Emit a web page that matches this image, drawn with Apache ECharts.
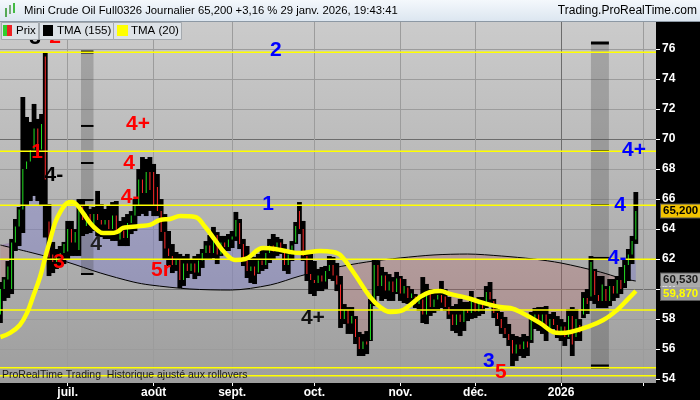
<!DOCTYPE html>
<html><head><meta charset="utf-8">
<script src="https://cdn.jsdelivr.net/npm/echarts@6/dist/echarts.min.js"></script>
<style>html,body{margin:0;padding:0;background:#000}#c{width:700px;height:400px}</style>
</head><body><div id="c"></div>
<script>
// ---- categories (trading days) ----
const dates = [
'2025-06-05','2025-06-06','2025-06-09','2025-06-10','2025-06-11','2025-06-12','2025-06-13','2025-06-16','2025-06-17','2025-06-18','2025-06-19','2025-06-20','2025-06-23','2025-06-24','2025-06-25','2025-06-26','2025-06-27','2025-06-30',
'2025-07-01','2025-07-02','2025-07-03','2025-07-04','2025-07-07','2025-07-08','2025-07-09','2025-07-10','2025-07-11','2025-07-14','2025-07-15','2025-07-16','2025-07-17','2025-07-18','2025-07-21','2025-07-22','2025-07-23','2025-07-24','2025-07-25','2025-07-28','2025-07-29','2025-07-30','2025-07-31',
'2025-08-01','2025-08-04','2025-08-05','2025-08-06','2025-08-07','2025-08-08','2025-08-11','2025-08-12','2025-08-13','2025-08-14','2025-08-15','2025-08-18','2025-08-19','2025-08-20','2025-08-21','2025-08-22','2025-08-25','2025-08-26','2025-08-27','2025-08-28','2025-08-29',
'2025-09-01','2025-09-02','2025-09-03','2025-09-04','2025-09-05','2025-09-08','2025-09-09','2025-09-10','2025-09-11','2025-09-12','2025-09-15','2025-09-16','2025-09-17','2025-09-18','2025-09-19','2025-09-22','2025-09-23','2025-09-24','2025-09-25','2025-09-26','2025-09-29','2025-09-30',
'2025-10-01','2025-10-02','2025-10-03','2025-10-06','2025-10-07','2025-10-08','2025-10-09','2025-10-10','2025-10-13','2025-10-14','2025-10-15','2025-10-16','2025-10-17','2025-10-20','2025-10-21','2025-10-22','2025-10-23','2025-10-24','2025-10-27','2025-10-28','2025-10-29','2025-10-30','2025-10-31',
'2025-11-03','2025-11-04','2025-11-05','2025-11-06','2025-11-07','2025-11-10','2025-11-11','2025-11-12','2025-11-13','2025-11-14','2025-11-17','2025-11-18','2025-11-19','2025-11-20','2025-11-21','2025-11-24','2025-11-25','2025-11-26','2025-11-27','2025-11-28',
'2025-12-01','2025-12-02','2025-12-03','2025-12-04','2025-12-05','2025-12-08','2025-12-09','2025-12-10','2025-12-11','2025-12-12','2025-12-15','2025-12-16','2025-12-17','2025-12-18','2025-12-19','2025-12-22','2025-12-23','2025-12-24','2025-12-25','2025-12-26','2025-12-29','2025-12-30','2025-12-31',
'2026-01-01','2026-01-02','2026-01-05','2026-01-06','2026-01-07','2026-01-08','2026-01-09','2026-01-12','2026-01-13','2026-01-14','2026-01-15','2026-01-16','2026-01-19','2026-01-20','2026-01-21','2026-01-22','2026-01-23','2026-01-26','2026-01-27','2026-01-28','2026-01-29','2026-01-30',
'2026-02-02','2026-02-03','2026-02-04','2026-02-05'
];
const monthLabels = ['juil.','août','sept.','oct.','nov.','déc.','2026',''];
const yTicks = [54,56,58,60,62,64,66,68,70,72,74,76];

// ---- price series (OHLC) ----
const opens = [58.3,60.0,60.64,60.0,63.1,64.17,65.3,68.0,68.5,69.3,70.7,69.3,75.5,64.5,62.3,61.8,62.2,62.4,62.5,64.0,63.1,62.6,65.5,64.2,65.0,64.3,65.0,64.6,64.3,64.6,64.0,64.9,63.3,63.9,63.4,64.4,64.9,65.6,67.3,66.4,67.8,67.8,66.8,65.2,63.8,62.7,62.2,61.6,62.0,60.6,61.7,61.2,61.7,61.1,61.9,62.4,62.9,62.4,63.6,62.3,63.1,62.8,63.3,63.5,64.4,63.0,61.9,61.2,61.5,61.1,61.9,61.6,62.4,62.9,62.5,63.1,62.6,61.6,62.3,63.1,65.2,64.0,62.2,61.0,60.6,60.4,60.9,60.5,61.2,61.6,60.9,60.3,58.0,58.6,57.7,58.0,56.8,56.0,56.5,56.6,59.0,61.6,60.2,60.9,59.9,60.5,59.8,60.7,59.7,60.1,59.4,59.5,59.0,59.3,58.3,59.8,58.8,59.3,59.6,59.5,58.8,58.3,57.6,58.3,57.8,58.6,58.4,59.2,58.5,59.0,58.9,59.8,59.2,58.4,58.0,57.4,57.0,56.6,55.7,56.3,56.0,56.5,56.6,58.0,58.3,57.8,58.3,57.4,58.0,57.6,57.2,57.5,56.8,58.2,56.8,57.6,58.3,59.4,59.5,61.2,59.6,59.2,60.0,59.2,60.2,59.7,60.6,60.4,61.6,62.3,63.3];
const highs = [60.4,60.73,61.8,63.27,64.6,65.4,72.73,71.4,71.07,72.27,71.27,71.6,75.73,65.6,63.07,62.6,62.8,63.07,64.47,64.47,63.93,65.93,65.93,65.47,65.27,65.4,66.47,65.6,65.27,65.47,65.73,65.8,64.47,64.73,64.93,65.13,65.93,67.93,68.73,68.6,68.73,68.27,67.6,65.93,64.93,63.8,62.93,62.4,62.27,62.13,62.27,61.93,62.13,62.27,62.6,63.13,63.53,64.07,63.73,63.47,63.47,63.6,63.8,65.07,64.6,63.27,62.8,62.27,62.07,62.27,62.6,62.8,63.27,63.6,63.4,63.27,62.93,62.47,63.13,64.4,65.73,64.47,62.27,62.27,61.8,61.27,61.4,61.47,62.13,62.07,61.67,60.8,58.93,58.73,58.73,58.13,57.07,56.93,57.13,59.27,61.93,61.8,61.4,61.07,60.93,60.73,61.07,60.8,60.6,60.13,59.93,59.6,59.47,60.73,60.27,59.93,59.73,59.8,60.47,59.93,59.4,58.8,58.93,59.27,59.07,59.07,59.8,59.27,59.4,59.4,60.13,60.4,59.27,58.8,58.4,58.07,57.6,56.93,56.8,56.73,56.93,56.8,58.4,58.67,58.73,58.73,58.8,58.27,58.4,58.13,57.93,57.73,58.6,58.73,58.6,57.93,59.73,59.93,62.13,61.27,60.8,60.8,60.13,60.6,60.6,60.8,61.4,61.93,62.6,63.47,66.4];
const lows = [57.8,59.27,59.47,59.73,62.6,62.93,63.8,65.6,65.93,66.27,65.93,65.6,63.5,60.93,61.13,61.4,61.6,61.73,62.07,62.27,62.27,62.27,63.6,63.73,63.8,63.93,63.6,63.53,63.4,63.4,63.27,63.27,62.93,62.93,62.93,63.73,63.93,64.93,65.07,64.93,65.27,64.93,64.93,63.27,62.07,61.6,61.13,61.27,60.13,60.27,60.8,61.07,60.73,60.93,61.47,62.07,62.07,62.13,61.73,62.27,62.6,62.6,62.8,63.27,62.73,61.6,60.8,60.47,60.4,61.07,61.27,61.4,61.8,62.07,62.27,62.4,61.27,61.07,61.93,63.07,63.73,61.93,60.6,59.73,59.6,59.93,59.93,60.07,60.73,60.6,59.93,57.47,57.73,57.07,57.07,56.4,55.6,55.6,55.73,56.6,58.93,59.6,59.27,59.4,59.27,59.27,59.73,59.27,59.13,59.07,59.07,58.8,58.6,57.8,57.73,58.27,58.47,58.6,58.8,58.6,58.07,57.27,57.13,56.93,57.27,57.93,58.07,58.13,58.27,58.4,58.8,59.07,58.13,57.6,57.07,56.8,56.27,54.93,55.27,55.6,55.47,55.6,56.47,57.4,57.27,57.07,56.6,57.27,57.4,56.8,56.6,56.27,56.73,55.6,56.6,56.6,58.13,58.4,59.27,59.07,58.8,58.8,58.8,58.93,59.27,59.47,59.73,60.13,60.6,61.73,63.07];
const closes = [60.0,60.64,61.5,63.1,64.17,65.3,68.0,68.5,69.27,70.7,69.3,71.0,67.3,62.1,61.8,62.2,62.4,63.0,64.0,63.1,63.8,65.5,64.6,65.0,64.3,65.0,64.6,64.3,64.6,64.0,64.9,63.7,63.9,63.4,64.4,64.9,65.6,67.3,66.4,67.8,66.6,65.6,65.2,63.8,62.7,62.2,61.6,62.0,60.6,61.7,61.2,61.7,61.1,61.9,62.4,62.9,62.4,63.6,62.3,63.1,62.8,63.3,63.5,64.6,63.0,61.9,61.2,61.5,60.9,61.9,61.6,62.4,62.9,62.5,63.1,62.6,61.6,62.3,62.9,64.2,64.0,62.2,61.0,60.6,60.4,60.9,60.5,61.2,61.6,60.9,60.3,58.0,58.6,57.7,58.2,56.8,56.0,56.5,56.3,59.0,61.6,60.2,60.9,59.9,60.5,59.8,60.7,59.7,60.2,59.4,59.7,59.0,59.3,58.3,59.8,58.8,59.3,59.6,59.1,58.8,58.3,57.6,58.3,57.8,58.6,58.4,59.2,58.5,59.0,58.7,59.8,59.3,58.4,58.0,57.4,57.0,56.6,55.7,56.3,56.0,56.5,56.1,58.0,58.3,57.8,58.3,57.4,58.0,57.6,57.2,57.5,56.8,58.2,56.3,58.0,57.1,59.4,59.0,61.8,59.6,59.2,60.3,59.2,60.2,59.7,60.6,60.0,61.6,62.3,63.2,65.2];

// ---- moving averages: [bar index, value] ----
const tma155 = [[0,62.93],[8.7,62.4],[17.8,61.8],[26.7,61.07],[35.5,60.47],[40,60.27],[50.7,60.0],[61.5,59.93],[72.2,60.27],[80.2,60.87],[89,61.4],[98,61.8],[107,62.07],[116,62.27],[125,62.33],[134,62.2],[142.6,62.0],[150,61.73],[160.5,61.13],[165.9,60.73],[170,60.53]];
const tma20 = [[0,56.8],[2.6,57.07],[5.2,57.6],[7.1,58.4],[8.7,59.47],[10.6,60.8],[12,62.13],[13.3,63.27],[14.6,64.4],[16,65.13],[17.8,65.73],[19.2,65.8],[20.5,65.6],[22.1,65.07],[24,64.4],[25.9,63.93],[27.5,63.73],[29.3,63.73],[31.2,63.8],[32.8,64.07],[34.7,64.13],[37.4,64.2],[40,64.27],[42.7,64.6],[45.4,64.67],[48.1,64.87],[52.1,64.8],[54.8,64.13],[57.4,63.27],[60.1,62.4],[62.8,61.93],[65.5,62.0],[70.3,62.73],[73.5,62.67],[77.5,62.47],[80.2,62.4],[85.5,62.53],[89,62.47],[90.9,62.27],[94.4,61.13],[98.9,59.47],[101.6,58.8],[104.3,58.47],[107,58.53],[109.6,58.93],[112.3,59.47],[115,59.8],[117.7,59.87],[120.3,59.67],[124.9,59.4],[129.2,59.07],[133.7,58.8],[136.4,58.73],[139.1,58.47],[144.4,57.73],[147.9,57.13],[149.8,57.07],[152.5,57.13],[157,57.47],[161.3,57.93],[165,58.6],[167.7,59.27],[170,59.87]];

// ---- drawn objects (data space) ----
const levels = [75.78,69.18,65.58,61.98,58.6,54.75,54.22];
const bands = [[21.56,24.9,75.85,61.0],[158.0,162.8,76.45,54.75]];
const bandMarks = [[75.8,70.87,68.4,65.93,61.0],[76.4,69.2,65.6,62.07,54.9,54.75]];
const fillSegments = [[0,3,-1],[3,82,1],[82,167,-1],[167,170,1]];
const annotations = [
 [9.3,76.73,'3','#000000'],[14.6,76.8,'2','#ff0000'],[73.7,75.93,'2','#0000ff'],
 [36.8,71.0,'4+','#ff0000'],[9.8,69.13,'1','#ff0000'],[14.3,67.6,'4-','#000000'],
 [34.4,68.4,'4','#ff0000'],[34.7,66.13,'4-','#ff0000'],[71.6,65.67,'1','#0000ff'],
 [25.6,63.0,'4','#202020'],[15.7,61.8,'3','#ff0000'],[42.96,61.27,'5r','#ff0000'],
 [83.6,58.07,'4+','#101010'],[130.7,55.2,'3','#0000ff'],[133.9,54.47,'5','#ff0000'],
 [169.5,69.27,'4+','#0000ff'],[165.8,65.6,'4','#0000ff'],[165.0,62.07,'4-','#0000ff']
];

const FONT = '"Liberation Sans", Arial, sans-serif';
const X_MIN = -0.112, X_MAX = 175.4;
const monthStarts = [];
for (let i = 1; i < dates.length; i++) if (dates[i].slice(0,7) !== dates[i-1].slice(0,7)) monthStarts.push(i);
const lastIdx = closes.length - 1;
const fmt = v => v.toFixed(3).replace('.', ',');

function renderCandle(params, api) {
  const i = api.value(0);
  const o = opens[i], h = highs[i], l = lows[i], c = closes[i];
  const pH = api.coord([i, h]), pL = api.coord([i, l]), pO = api.coord([i, o]), pC = api.coord([i, c]);
  const top = Math.min(pO[1], pC[1]), hh = Math.max(1, Math.abs(pC[1] - pO[1]));
  return { type: 'group', children: [
    { type: 'rect', shape: { x: pH[0] - 2.4, y: pH[1] - 1, width: 4.8, height: pL[1] - pH[1] + 2 }, style: { fill: '#000' } },
    { type: 'rect', shape: { x: pO[0] - 0.5, y: top, width: 1, height: hh }, style: { fill: c >= o ? '#22e022' : '#ff2a2a' } }
  ]};
}
function renderFill(params, api) {
  const children = fillSegments.map(([a, b, s]) => {
    const pts = [];
    for (let i = a; i <= b; i++) pts.push(api.coord([i, closes[i]]));
    tma155.filter(p => p[0] >= a - 3 && p[0] <= b).reverse().forEach(p => pts.push(api.coord(p)));
    return { type: 'polygon', shape: { points: pts }, style: { fill: s > 0 ? 'rgba(95,95,225,0.26)' : 'rgba(195,85,85,0.22)' } };
  });
  return { type: 'group', children };
}
function renderLevel(params, api) {
  const cs = params.coordSys;
  const y = api.coord([0, levels[params.dataIndex]])[1];
  return { type: 'line', shape: { x1: cs.x, y1: y, x2: cs.x + cs.width, y2: y }, style: { stroke: '#ffff00', lineWidth: 1.4 } };
}
function renderBand(params, api) {
  const b = bands[params.dataIndex];
  const p1 = api.coord([b[0], b[2]]), p2 = api.coord([b[1], b[3]]);
  const ch = [{ type: 'rect', shape: { x: p1[0], y: p1[1], width: p2[0] - p1[0], height: p2[1] - p1[1] }, style: { fill: 'rgba(70,70,70,0.28)' } }];
  bandMarks[params.dataIndex].forEach((v, k) => {
    const y = api.coord([b[0], v])[1];
    ch.push({ type: 'line', shape: { x1: p1[0], y1: y, x2: p2[0], y2: y }, style: { stroke: '#000', lineWidth: k === 0 ? 3 : 2 } });
  });
  return { type: 'group', children: ch };
}
function renderNote(params, api) {
  const a = annotations[params.dataIndex];
  const p = api.coord([a[0], a[1]]);
  return { type: 'text', x: p[0], y: p[1], style: { text: a[2], fill: a[3], font: 'bold 21px ' + FONT, align: 'center', verticalAlign: 'middle' } };
}
const lastLabels = [
  [closes[lastIdx], '#f2c300', '#000', 0],
  [tma155[tma155.length - 1][1], '#a9a9a9', '#1a1a1a', -1],
  [tma20[tma20.length - 1][1], '#9d9d9d', '#ffff00', 2.5]
];
function renderLast(params, api) {
  const d = lastLabels[params.dataIndex];
  const p = api.coord([X_MAX, d[0]]);
  return { type: 'text', x: p[0] + 5, y: p[1] + d[3], style: { text: fmt(d[0]), fill: d[2], font: 'bold 11.5px ' + FONT, verticalAlign: 'middle', backgroundColor: d[1], padding: [1, 2, 0, 2], borderColor: 'rgba(255,255,255,0.35)', borderWidth: 1 } };
}

const LIGHT = '#9c9c9c', DARK = '#6c6c6c';
const chart = echarts.init(document.getElementById('c'), null, { renderer: 'canvas' });
chart.setOption({
  animation: false,
  backgroundColor: '#000',
  grid: { left: 0, right: 44, top: 22, bottom: 17, show: true, borderWidth: 0,
    backgroundColor: { type: 'linear', x: 0, y: 0, x2: 0, y2: 1, colorStops: [{ offset: 0, color: '#cbcbcb' }, { offset: 1, color: '#9e9e9e' }] } },
  xAxis: { type: 'value', min: X_MIN, max: X_MAX,
    axisLine: { show: false, onZero: false },
    axisTick: { show: true, length: 3, lineStyle: { color: '#fff' }, customValues: monthStarts },
    axisLabel: { customValues: monthStarts, color: '#fff', fontWeight: 'bold', fontSize: 12, fontFamily: FONT, margin: 4,
      formatter: v => monthLabels[monthStarts.indexOf(v)] || '' },
    splitLine: { show: true, lineStyle: { color: monthStarts.map(i => dates[i].slice(0,7) === '2026-01' ? DARK : LIGHT), width: 1 } } },
  yAxis: { type: 'value', position: 'right', min: 53.733, max: 77.8,
    axisLine: { show: false, onZero: false },
    axisTick: { show: true, length: 4, lineStyle: { color: '#fff' }, customValues: yTicks },
    axisLabel: { customValues: yTicks, color: '#fff', fontWeight: 'bold', fontSize: 12, fontFamily: FONT, margin: 6 },
    splitLine: { show: true, lineStyle: { color: yTicks.map(v => v % 10 === 0 ? DARK : LIGHT), width: 1 } } },
  series: [
    { type: 'custom', name: 'fill', data: [[0, closes[0]]], renderItem: renderFill, z: 1, silent: true },
    { type: 'custom', name: 'bands', data: bands.map(b => [b[0], b[2]]), renderItem: renderBand, z: 2, silent: true },
    { type: 'line', name: 'TMA (155)', data: tma155, smooth: 0.3, symbol: 'none', lineStyle: { color: '#000', width: 1 }, z: 3, silent: true },
    { type: 'custom', name: 'Prix', data: closes.map((c, i) => [i, c]), renderItem: renderCandle, z: 4, clip: true, silent: true },
    { type: 'custom', name: 'levels', data: levels.map(v => [0, v]), renderItem: renderLevel, z: 5, silent: true },
    { type: 'line', name: 'TMA (20)', data: tma20, smooth: 0.4, symbol: 'none', lineStyle: { color: '#ffff00', width: 4.5 }, z: 6, silent: true },
    { type: 'custom', name: 'notes', data: annotations.map(a => [a[0], a[1]]), renderItem: renderNote, z: 7, silent: true },
    { type: 'custom', name: 'last', data: lastLabels.map(d => [X_MAX, d[0]]), renderItem: renderLast, z: 8, silent: true }
  ],
  graphic: [
    { type: 'text', z: 50, left: 2, top: 370, style: { text: 'ProRealTime Trading  Historique ajusté aux rollovers', font: '10.5px ' + FONT, fill: '#1a1a1a' } },
    { type: 'rect', z: 100, shape: { x: 0, y: 0, width: 700, height: 21 }, style: { fill: { type: 'linear', x: 0, y: 0, x2: 0, y2: 1, colorStops: [{ offset: 0, color: '#f4f8fc' }, { offset: 1, color: '#dce6f0' }] } } },
    { type: 'line', z: 100, shape: { x1: 0, y1: 21.5, x2: 700, y2: 21.5 }, style: { stroke: '#8c98a4', lineWidth: 1 } },
    { type: 'rect', z: 101, shape: { x: 5, y: 8, width: 2, height: 9 }, style: { fill: '#5a5' } },
    { type: 'rect', z: 101, shape: { x: 9, y: 5, width: 2, height: 9 }, style: { fill: '#7a7' } },
    { type: 'rect', z: 101, shape: { x: 13, y: 3, width: 2, height: 10 }, style: { fill: '#4b4' } },
    { type: 'text', z: 101, x: 24, y: 11, style: { text: 'Mini Crude Oil Full0326 Journalier 65,200 +3,16 % 29 janv. 2026, 19:43:41', font: '11.3px ' + FONT, fill: '#000', verticalAlign: 'middle' } },
    { type: 'text', z: 101, x: 697, y: 11, style: { text: 'Trading.ProRealTime.com', font: '12px ' + FONT, fill: '#000', align: 'right', verticalAlign: 'middle' } },
    { type: 'rect', z: 100, shape: { x: 1.5, y: 22.5, width: 37, height: 17 }, style: { fill: '#dde2e7', stroke: '#a4a9ae' } },
    { type: 'rect', z: 101, shape: { x: 3, y: 25, width: 4, height: 11 }, style: { fill: '#2fcf2f' } },
    { type: 'rect', z: 101, shape: { x: 7, y: 25, width: 5, height: 11 }, style: { fill: '#ee2222' } },
    { type: 'text', z: 101, x: 16, y: 31, style: { text: 'Prix', font: '11.5px ' + FONT, fill: '#000', verticalAlign: 'middle' } },
    { type: 'rect', z: 100, shape: { x: 39.5, y: 22.5, width: 74, height: 17 }, style: { fill: '#dde2e7', stroke: '#a4a9ae' } },
    { type: 'rect', z: 101, shape: { x: 43, y: 25, width: 10, height: 11 }, style: { fill: '#000' } },
    { type: 'text', z: 101, x: 57, y: 31, style: { text: 'TMA (155)', font: '11.5px ' + FONT, fill: '#000', verticalAlign: 'middle' } },
    { type: 'rect', z: 100, shape: { x: 113.5, y: 22.5, width: 68, height: 17 }, style: { fill: '#dde2e7', stroke: '#a4a9ae' } },
    { type: 'rect', z: 101, shape: { x: 117, y: 25, width: 11, height: 11 }, style: { fill: '#ffff00' } },
    { type: 'text', z: 101, x: 131, y: 31, style: { text: 'TMA (20)', font: '11.5px ' + FONT, fill: '#000', verticalAlign: 'middle' } }
  ]
});
</script></body></html>
